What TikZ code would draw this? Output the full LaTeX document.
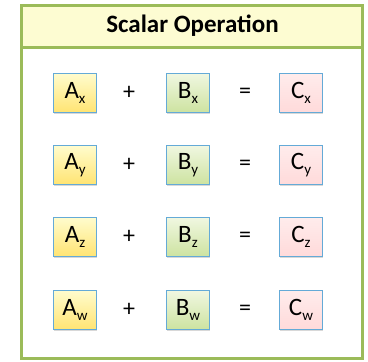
\documentclass[tikz,border=0pt]{standalone}
\usepackage{fontspec}
\setmainfont{Carlito}
\usepackage{xcolor}
\usepackage{tikz}
\usetikzlibrary{shadows,positioning}
\definecolor{olive}{RGB}{155, 187, 89}
\definecolor{titlebg}{RGB}{253, 252, 210}
\definecolor{edgeblue}{RGB}{100, 170, 215}
\definecolor{ytop}{RGB}{255, 252, 205}
\definecolor{ybot}{RGB}{255, 228, 115}
\definecolor{gtop}{RGB}{240, 247, 225}
\definecolor{gbot}{RGB}{205, 227, 160}
\definecolor{ptop}{RGB}{255, 236, 236}
\definecolor{pbot}{RGB}{255, 218, 218}
\newcommand{\sub}[1]{\raisebox{-5.5pt}{\fontsize{15}{18}\selectfont #1}}

\begin{document}
\begin{tikzpicture}[
    x=1pt, y=-1pt,
    frame/.style={draw=olive, line width=3pt},
    band/.style={draw=olive, line width=3pt, fill=titlebg},
    cell/.style={draw=edgeblue, line width=1.2pt, minimum width=43pt, minimum height=39pt, font=\fontsize{25}{28}\selectfont, inner sep=0pt, drop shadow={shadow xshift=1pt, shadow yshift=-1.5pt, fill=black!30}},
    acell/.style={cell, top color=ytop, bottom color=ybot},
    bcell/.style={cell, top color=gtop, bottom color=gbot},
    ccell/.style={cell, top color=ptop, bottom color=pbot},
    op/.style={font=\fontsize{24}{28}\selectfont, inner sep=0pt}
]
    \useasboundingbox (0,0) rectangle (368,362);

    % Outer frame and title band
    \draw[frame] (22,5) rectangle (363,358);
    \draw[band] (22,5) rectangle (363,47);
    \node[font=\fontsize{25}{28}\selectfont\bfseries] (title) at (192.5,26) {Scalar Operation};

    % Row x
    \node[acell] (ax) at (75,93) {A\sub{x}};
    \node[op] (px) at (129,93) {+};
    \node[bcell] (bx) at (188,93) {B\sub{x}};
    \node[op] (ex) at (245,93) {=};
    \node[ccell] (cx) at (301,93) {C\sub{x}};

    % Row y
    \node[acell] (ay) at (75,165) {A\sub{y}};
    \node[op] (py) at (129,165) {+};
    \node[bcell] (by) at (188,165) {B\sub{y}};
    \node[op] (ey) at (245,165) {=};
    \node[ccell] (cy) at (301,165) {C\sub{y}};

    % Row z
    \node[acell] (az) at (75,237) {A\sub{z}};
    \node[op] (pz) at (129,237) {+};
    \node[bcell] (bz) at (188,237) {B\sub{z}};
    \node[op] (ez) at (245,237) {=};
    \node[ccell] (cz) at (301,237) {C\sub{z}};

    % Row w
    \node[acell] (aw) at (75,310) {A\sub{w}};
    \node[op] (pw) at (129,310) {+};
    \node[bcell] (bw) at (188,310) {B\sub{w}};
    \node[op] (ew) at (245,310) {=};
    \node[ccell] (cw) at (301,310) {C\sub{w}};

\end{tikzpicture}
\end{document}
